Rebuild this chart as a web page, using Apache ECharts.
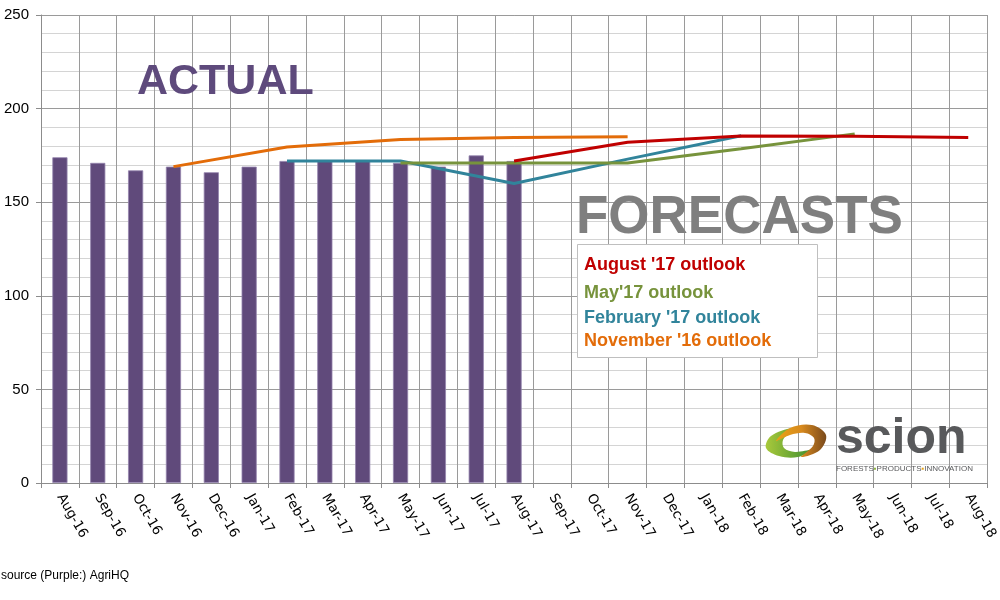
<!DOCTYPE html>
<html>
<head>
<meta charset="utf-8">
<title>Actual vs forecasts</title>
<script src="https://cdn.jsdelivr.net/npm/echarts@6/dist/echarts.min.js"></script>
<style>
  html, body { margin: 0; padding: 0; background: #fff; }
  #chart { width: 1000px; height: 600px; }
</style>
</head>
<body>
<div id="chart"></div>
<script>
/* ── Data ─────────────────────────────────────────────────────────── */
const months = ['Aug-16', 'Sep-16', 'Oct-16', 'Nov-16', 'Dec-16', 'Jan-17', 'Feb-17', 'Mar-17',
    'Apr-17', 'May-17', 'Jun-17', 'Jul-17', 'Aug-17', 'Sep-17', 'Oct-17', 'Nov-17', 'Dec-17',
    'Jan-18', 'Feb-18', 'Mar-18', 'Apr-18', 'May-18', 'Jun-18', 'Jul-18', 'Aug-18'];

// purple bars, source AgriHQ
const actual = [174, 171, 167, 169, 166, 169, 172, 172, 172, 171, 169, 175, 172];

const nov16Outlook = [null, null, null, 169, null, null, 179.5, null, null, 183.5, null, null, 184.5, null, null, 185];
const feb17Outlook = [null, null, null, null, null, null, 172, null, null, 172, null, null, 160, null, null, 173, null, null, 185.5];
const may17Outlook = [null, null, null, null, null, null, null, null, null, 171, null, null, 171, null, null, 171, null, null, 178.5, null, null, 186.5];
const aug17Outlook = [null, null, null, null, null, null, null, null, null, null, null, null, 172, null, null, 182, null, null, 185.3, null, null, 185.2, null, null, 184.5];

const yTicks = { min: 0, max: 250, step: 50 };

const outlookLabels = ["August '17 outlook", "May'17 outlook", "February '17 outlook", "November '16 outlook"];
const outlookColors = ['#C00000', '#77933C', '#31849B', '#E36C09'];

/* ── Helpers ──────────────────────────────────────────────────────── */
function lineSeries(name, data, color) {
    return {
        name, type: 'line', data,
        connectNulls: true,
        showSymbol: false,
        symbol: 'none',
        lineStyle: { color, width: 3 },
        z: 5
    };
}

function hGradient(stops) {
    return { type: 'linear', x: 0, y: 0, x2: 1, y2: 0, colorStops: stops };
}

/* ── Chart ────────────────────────────────────────────────────────── */
const chart = echarts.init(document.getElementById('chart'));

const legendTexts = outlookLabels.map((t, i) => ({
    type: 'text',
    left: 584,
    top: [256, 284, 309, 332][i],
    style: { text: t, fill: outlookColors[i], font: 'bold 18px "Liberation Sans", Arial, sans-serif' },
    z: 20
}));

chart.setOption({
    animation: false,
    grid: { left: 41, right: 12, top: 15, bottom: 117 },
    xAxis: {
        type: 'category',
        data: months,
        boundaryGap: true,
        axisLine: { lineStyle: { color: '#8c8c8c' } },
        axisTick: { show: true, length: 5, lineStyle: { color: '#8c8c8c' } },
        splitLine: { show: true, interval: 0, lineStyle: { color: '#9a9a9a', width: 1 } },
        axisLabel: {
            interval: 0, rotate: -60, margin: 12,
            color: '#000', fontSize: 13.5,
            fontFamily: '"DejaVu Sans", sans-serif'
        }
    },
    yAxis: {
        type: 'value',
        min: yTicks.min, max: yTicks.max, interval: yTicks.step,
        axisLine: { show: true, lineStyle: { color: '#8c8c8c' } },
        axisTick: { show: true, length: 5, lineStyle: { color: '#8c8c8c' } },
        axisLabel: { color: '#000', fontSize: 15, margin: 12, fontFamily: '"Liberation Sans", sans-serif' },
        splitLine: { lineStyle: { color: '#9a9a9a' } },
        minorTick: { show: false, splitNumber: 5 },
        minorSplitLine: { show: true, lineStyle: { color: '#d4d4d4' } }
    },
    series: [
        {
            name: 'Actual', type: 'bar', data: actual,
            barWidth: '40%',
            itemStyle: { color: '#604A7B', borderColor: '#9484ad', borderWidth: 0.8 },
            z: 3
        },
        lineSeries("November '16 outlook", nov16Outlook, outlookColors[3]),
        lineSeries("February '17 outlook", feb17Outlook, outlookColors[2]),
        lineSeries("May'17 outlook", may17Outlook, outlookColors[1]),
        lineSeries("August '17 outlook", aug17Outlook, outlookColors[0])
    ],
    graphic: [
        {
            type: 'text', left: 137, top: 61,
            style: { text: 'ACTUAL', fill: '#5E4A7C', font: 'bold 43px "Liberation Sans", Arial, sans-serif' },
            z: 20
        },
        {
            type: 'text', left: 576, top: 192,
            style: { text: 'FORECASTS', fill: '#7F7F7F', font: 'bold 53px "Liberation Sans", Arial, sans-serif' },
            z: 20
        },
        {
            type: 'rect', left: 577, top: 244,
            shape: { width: 240, height: 113 },
            style: { fill: '#fff', stroke: '#bfbfbf', lineWidth: 1 },
            z: 15
        },
        ...legendTexts,
        // scion logo swoosh
        {
            type: 'polygon', z: 20,
            shape: {
                points: [[792, 428], [771, 436], [766, 448], [779, 456], [798, 457], [812, 450],
                    [795, 452], [784, 448], [783, 440], [790, 432]],
                smooth: 0.35
            },
            style: { fill: hGradient([{ offset: 0, color: '#A9C93B' }, { offset: 1, color: '#3E8E2F' }]) }
        },
        {
            type: 'polygon', z: 20,
            shape: {
                points: [[776, 441], [790, 428], [812, 425], [826, 435], [820, 450], [801, 457],
                    [813, 446], [814, 438], [805, 433], [790, 435]],
                smooth: 0.35
            },
            style: { fill: hGradient([{ offset: 0, color: '#E8A317' }, { offset: 0.5, color: '#D88A1E' }, { offset: 1, color: '#7A4A1C' }]) }
        },
        {
            type: 'text', left: 836, top: 414, z: 20,
            style: { text: 'scion', fill: '#58595B', font: 'bold 50px "Liberation Sans", Arial, sans-serif' }
        },
        {
            type: 'text', left: 836, top: 465, z: 20,
            style: {
                text: 'FORESTS{g|▪}PRODUCTS{o|▪}INNOVATION',
                fill: '#58595B',
                font: '8px "Liberation Sans Narrow", "Liberation Sans", sans-serif',
                rich: {
                    g: { fill: '#8DB43E', fontSize: 8 },
                    o: { fill: '#E8A317', fontSize: 8 }
                }
            }
        },
        {
            type: 'text', left: 1, top: 570, z: 20,
            style: { text: 'source (Purple:) AgriHQ', fill: '#000', font: '12px "Liberation Sans Narrow", "Liberation Sans", sans-serif' }
        }
    ]
});

window.addEventListener('resize', () => chart.resize());
</script>
</body>
</html>
